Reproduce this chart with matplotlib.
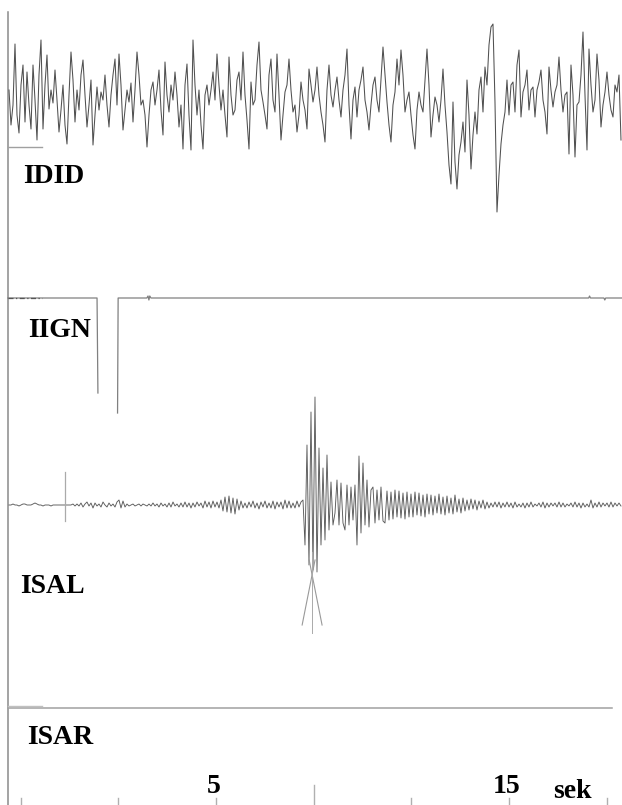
import numpy as np
import matplotlib
matplotlib.use("Agg")
import matplotlib.pyplot as plt

# ---------------- data (time in seconds, amplitude in display units) ----------------
PX_PER_SEC = 29.3
T_LEFT, T_RIGHT = -2.372, 18.857      # visible time window
SAMPLE_T0 = -2.065
SAMPLE_DT = 2 / PX_PER_SEC            # sample spacing

# IDID trace amplitudes (rows of 10 samples)
idid_amp = [
    5, -30, -10, 51, -20, -38, 10, 30, -27, 23,
    -10, -34, 30, -5, -45, 20, 55, -34, 10, 40,
    -14, 5, -8, 25, -5, -37, -15, 10, -30, -49,
    0, 43, 15, -27, 5, -15, 20, 35, 0, -32,
    -10, 15, -50, -20, 8, -15, 3, -5, 20, -10,
    -32, 0, 20, 36, -10, 41, 10, -35, -15, 5,
    -7, 12, -27, 5, 43, 20, -10, -5, -20, -52,
    -20, 5, 13, -10, 5, 25, -15, -40, 33, 0,
    -17, 10, -5, 23, 0, -32, -10, -54, 10, 31,
    -20, -55, 55, 10, -20, 5, -30, -54, 0, 10,
    -10, 5, 23, -5, 41, 10, -15, 5, -20, -42,
    38, 0, -20, -15, 15, 23, -5, 43, 0, -25,
    -54, 13, -10, -5, 30, 53, 5, -7, -20, -34,
    20, 36, -5, -17, 41, 0, -45, -20, 3, 10,
    36, 5, -17, -10, -37, -20, 13, -5, -15, -34,
    26, 10, -7, 5, 28, 0, -17, -30, -47, 5,
    30, 0, -12, 5, 18, -5, -22, 5, 20, 46,
    -10, -44, -5, 8, -22, 5, 15, 28, -5, -17,
    -35, -10, 10, 18, -5, -17, 15, 48, 20, -7,
    -30, -47, -10, 3, 36, 10, 45, 20, -17, -5,
    3, -20, -40, -54, -15, 3, -10, -17, 15, 46,
    10, -42, -20, -2, -10, -27, -5, 26, -10, -37,
    -70, -89, -7, -67, -94, -60, -47, -27, -57, 15,
    -20, -74, -40, -17, -39, 5, 18, -17, 28, 10,
    50, 68, 71, -7, -117, -80, -49, -30, -17, 15,
    -20, 10, 13, -17, 30, 45, -22, 3, 10, 25,
    -15, 5, 8, -22, 5, 13, 25, -5, -17, -39,
    28, 5, -12, 3, 10, 38, 5, -17, 0, 3,
    -59, 30, 0, -62, -10, -7, 20, 63, 0, -55,
    46, 10, -17, -5, 41, 15, -32, -10, 3, 23,
    0, -15, -22, 10, 3, 20, -45,
]

# ISAL trace amplitudes (rows of 10 samples)
isal_amp = [
    0, 0, 1, 0, 0, -1, 0, 1, 1, 0,
    0, 0, 1, 2, 1, 0, 0, -1, 0, 0,
    0, -1, 0, 0, 0, 0, 0, 0, 0, 0,
    0, 0, 1, -1, 1, -1, 2, -2, 1, 3,
    -1, 2, -3, 2, -1, 1, -2, 3, 0, -2,
    2, -1, 1, -2, 3, 5, -3, 4, -2, 1,
    -1, 0, 1, -1, 0, 1, -1, 1, 0, -1,
    1, -1, 2, -1, 1, -2, 2, -1, 1, -2,
    2, -2, 3, -1, 1, -2, 2, -2, 3, -2,
    2, -3, 2, -2, 3, -1, 2, -3, 4, -2,
    3, -3, 4, -2, 3, -3, 5, -6, 8, -7,
    9, -8, 7, -9, 6, -5, 4, -3, 2, -3,
    3, -2, 4, -3, 2, -4, 3, -2, 4, -3,
    2, -3, 4, -4, 3, -2, 3, -4, 5, -3,
    4, -3, 2, -3, 4, -2, 3, 5, -40, 60,
    -60, 93, -65, 108, -67, 57, -40, 37, -35, 50,
    -25, 23, -20, -8, 25, -20, 22, -18, -25, 20,
    -20, 18, -15, 20, -40, 49, -28, 42, -20, 25,
    -22, 15, 18, -18, 15, -15, 18, -16, -18, 14,
    -15, 13, -14, 15, -12, 14, -13, 12, -14, 13,
    -12, 11, -12, 13, -10, 12, -11, 10, -12, 11,
    -9, 10, -10, 9, -8, 11, -9, 8, -10, 9,
    -8, 7, -9, 10, -7, 6, -8, 7, -6, 5,
    -5, 6, -4, 5, -5, 4, -3, 5, -4, 3,
    -3, 2, -2, 3, -2, 3, -3, 2, -2, 3,
    -2, 2, -3, 3, -2, 1, -2, 2, -3, 2,
    -2, 3, -2, 1, -1, 2, -2, 3, -3, 2,
    -2, 2, -1, 2, -2, 3, -2, 2, -2, 1,
    -1, 2, -2, 3, -2, 2, -3, 2, -2, 1,
    -2, 5, -3, 2, -2, 3, -2, 2, -1, 2,
    -2, 3, -2, 2, -1, 2, -1,
]

# IIGN: step-like trace (times in s, amplitude), gap where the pen left the chart
iign_t   = [-2.10, 0.94, 0.97, np.nan, 1.64, 1.66, 2.64, 2.68, 2.71, 2.74, 2.78,
            17.72, 17.75, 17.78, 18.24, 18.27, 18.30, 18.86]
iign_amp = [0, 0, -95, np.nan, -115, 0, 0, 2, -2, 2, 0,
            0, 2, 0, 0, -2, 0, 0]

# ISAR: flat trace
isar_t   = [-2.10, 18.52]
isar_amp = [0, 0]

# ISAL timing marker and pick marker
isal_marker_t = -0.154
isal_marker_amp = (33, -16)
pick_t = 8.28
pick_spread = 0.34
pick_amp = (-55, -120)

station_names = ["IDID", "IIGN", "ISAL", "ISAR"]
tick_times = [-1.667, 1.667, 5.0, 8.333, 11.667, 15.0, 18.333]
tick_labels = {5.0: "5", 15.0: "15"}
unit_label = "sek"

# ---------------- layout ----------------
W, H = 622, 805
baselines = {"IDID": 95, "IIGN": 298, "ISAL": 505, "ISAR": 708}

fig = plt.figure(figsize=(W / 100, H / 100), dpi=100)
ax = fig.add_axes([0, 0, 1, 1])
ax.set_xlim(T_LEFT, T_RIGHT)
ax.set_ylim(H, 0)
ax.axis("off")

def px2t(x):
    return T_LEFT + x / PX_PER_SEC

# left frame line
ax.plot([px2t(8.5), px2t(8.5)], [12, H], color="#8a8a8a", lw=1.1)

# IDID
t_idid = SAMPLE_T0 + SAMPLE_DT * np.arange(len(idid_amp))
ax.plot(t_idid, baselines["IDID"] - np.array(idid_amp), color="#505050", lw=0.75)

# ISAL
t_isal = SAMPLE_T0 + SAMPLE_DT * np.arange(len(isal_amp))
ax.plot(t_isal, baselines["ISAL"] - np.array(isal_amp), color="#5a5a5a", lw=0.65)
ax.plot([isal_marker_t, isal_marker_t],
        [baselines["ISAL"] - isal_marker_amp[0], baselines["ISAL"] - isal_marker_amp[1]],
        color="#aaaaaa", lw=0.9)
b = baselines["ISAL"]
ax.plot([pick_t - pick_spread, pick_t + 0.1], [b - pick_amp[1], b - pick_amp[0]], color="#999999", lw=0.8)
ax.plot([pick_t + pick_spread, pick_t - 0.1], [b - pick_amp[1], b - pick_amp[0]], color="#999999", lw=0.8)
ax.plot([pick_t, pick_t], [b - pick_amp[0] - 8, b - pick_amp[1] + 8], color="#aaaaaa", lw=0.7)

# IIGN
ax.plot(iign_t, baselines["IIGN"] - np.array(iign_amp, dtype=float), color="#808080", lw=0.9)
ax.plot([px2t(8), px2t(42)], [baselines["IIGN"], baselines["IIGN"]],
        color="#555555", lw=0.9, ls=(0, (4, 2, 1, 2)))

# ISAR
ax.plot(isar_t, baselines["ISAR"] - np.array(isar_amp), color="#a0a0a0", lw=1.1)

# short reference segments
ax.plot([px2t(8), px2t(42)], [147, 147], color="#a0a0a0", lw=1.0)
ax.plot([px2t(8), px2t(42)], [705.5, 705.5], color="#c0c0c0", lw=1.0)

# time ticks
for tt in tick_times:
    top = 785 if abs(tt - 8.333) < 0.01 else 798
    ax.plot([tt, tt], [top, H], color="#b0b0b0", lw=1.0)

font = dict(family="Liberation Serif", weight="bold", size=20, color="black")
label_pos = {"IDID": (23, 183), "IIGN": (28, 337), "ISAL": (20, 593), "ISAR": (27, 744)}
for name in station_names:
    x, y = label_pos[name]
    ax.text(px2t(x), y, name, ha="left", va="baseline", **font)

for tt, lab in tick_labels.items():
    ax.text(tt - 0.08, 793, lab, ha="center", va="baseline", **font)
ax.text(px2t(553), 798, unit_label, ha="left", va="baseline", **font)

fig.savefig("out.png", dpi=100, facecolor="white")
